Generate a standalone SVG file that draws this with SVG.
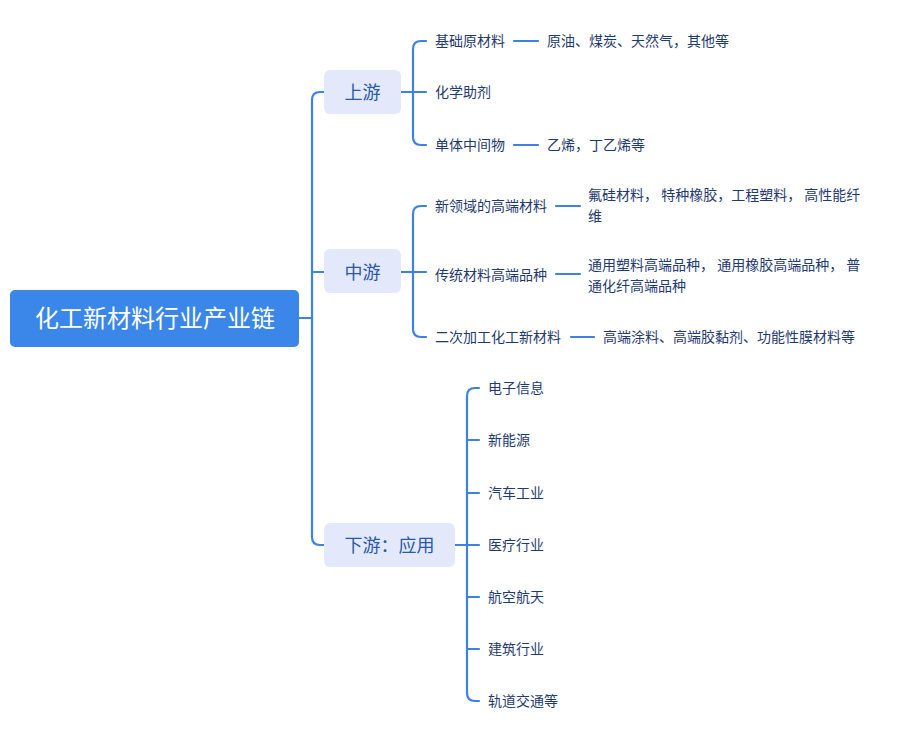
<svg xmlns="http://www.w3.org/2000/svg" width="923" height="741" viewBox="0 0 923 741">
<style>
text{font-family:"Noto Sans CJK SC","Noto Sans",sans-serif;}
.lf{font-size:14px;fill:#1f3a6e;}
.br{font-size:18px;fill:#2a5aa6;text-anchor:middle;}
.bx{fill:#e3e9fb;}
.ln{fill:none;stroke:#3b82e3;stroke-width:2.2;stroke-linecap:round;}
</style>
<rect width="923" height="741" fill="#ffffff"/>
<g id="connectors">
<path class="ln" d="M299,318 H312"/>
<path class="ln" d="M324,92 H320 Q312,92 312,100 V537 Q312,545 320,545 H324"/>
<path class="ln" d="M312,272 H324"/>
<path class="ln" d="M401,92 H426"/>
<path class="ln" d="M426,41 H421 Q413,41 413,49 V137 Q413,145 421,145 H426"/>
<path class="ln" d="M401,272 H426"/>
<path class="ln" d="M426,206 H421 Q413,206 413,214 V329 Q413,337 421,337 H426"/>
<path class="ln" d="M455,545 H479"/>
<path class="ln" d="M479,388 H475 Q467,388 467,396 V693 Q467,701 475,701 H479"/>
<path class="ln" d="M479,440 H467 M479,493 H467 M479,597 H467 M479,649 H467"/>
<path class="ln" d="M514,41 H538 M514,145 H538 M556,206 H580 M556,274 H580 M571,337 H594"/>
</g>
<g id="root">
<rect x="10" y="290" width="289" height="57" rx="5" fill="#3a87e9"/>
<text x="155" y="327" font-size="24" fill="#ffffff" text-anchor="middle">化工新材料行业产业链</text>
</g>
<g id="upstream">
<rect class="bx" x="324" y="70" width="77" height="44" rx="6"/>
<text class="br" x="362.5" y="98.5">上游</text>
</g>
<g id="midstream">
<rect class="bx" x="324" y="249" width="77" height="44" rx="6"/>
<text class="br" x="362.5" y="278.5">中游</text>
</g>
<g id="downstream">
<rect class="bx" x="324" y="523" width="131" height="44" rx="6"/>
<text class="br" x="389.5" y="551.5">下游：应用</text>
</g>
<g id="up-items">
<text class="lf" x="435" y="46">基础原材料</text>
<text class="lf" x="547" y="46">原油、煤炭、天然气，其他等</text>
<text class="lf" x="435" y="97">化学助剂</text>
<text class="lf" x="435" y="150">单体中间物</text>
<text class="lf" x="547" y="150">乙烯，丁乙烯等</text>
</g>
<g id="mid-items">
<text class="lf" x="435" y="211">新领域的高端材料</text>
<text class="lf" x="588" y="200">氟硅材料， 特种橡胶，工程塑料， 高性能纤</text>
<text class="lf" x="588" y="221">维</text>
<text class="lf" x="435" y="280">传统材料高端品种</text>
<text class="lf" x="588" y="270">通用塑料高端品种， 通用橡胶高端品种， 普</text>
<text class="lf" x="588" y="291">通化纤高端品种</text>
<text class="lf" x="435" y="342">二次加工化工新材料</text>
<text class="lf" x="603" y="342">高端涂料、高端胶黏剂、功能性膜材料等</text>
</g>
<g id="down-items">
<text class="lf" x="488" y="393">电子信息</text>
<text class="lf" x="488" y="445">新能源</text>
<text class="lf" x="488" y="498">汽车工业</text>
<text class="lf" x="488" y="550">医疗行业</text>
<text class="lf" x="488" y="602">航空航天</text>
<text class="lf" x="488" y="654">建筑行业</text>
<text class="lf" x="488" y="706">轨道交通等</text>
</g>
</svg>
